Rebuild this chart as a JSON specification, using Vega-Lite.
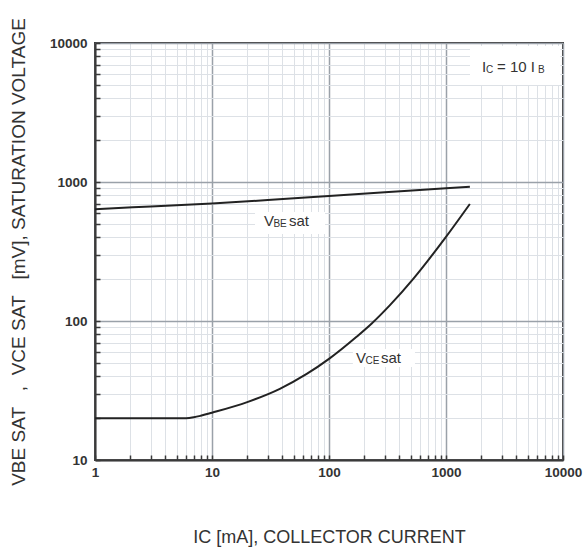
{
  "$schema": "https://vega.github.io/schema/vega-lite/v6.json",
  "autosize": "none",
  "padding": {"left": 95, "top": 43, "right": 20, "bottom": 91},
  "width": 468,
  "height": 417,
  "background": "white",
  "config": {
    "view": {"stroke": "#3a3a3a", "strokeWidth": 2},
    "font": "Liberation Sans"
  },
  "encoding": {
    "x": {
      "field": "x", "type": "quantitative",
      "scale": {"type": "log", "domain": [1, 10000]},
      "axis": {
        "values": [1,2,3,4,5,6,7,8,9,10,20,30,40,50,60,70,80,90,100,200,300,400,500,600,700,800,900,1000,2000,3000,4000,5000,6000,7000,8000,9000,10000],
        "labelExpr": "indexof([1,10,100,1000,10000], datum.value) >= 0 ? '' + datum.value : ''",
        "gridColor": {"condition": {"test": "indexof([1,10,100,1000,10000], datum.value) >= 0", "value": "#9aa1a9"}, "value": "#dde1e6"},
        "gridWidth": {"condition": {"test": "indexof([1,10,100,1000,10000], datum.value) >= 0", "value": 1.5}, "value": 1},
        "tickSize": -5, "tickColor": "#3a3a3a", "tickWidth": 1.5,
        "labelFont": "Liberation Sans", "labelFontWeight": "bold", "labelFontSize": 13.5, "labelColor": "#333333",
        "labelPadding": 10, "labelOverlap": false, "labelFlush": false,
        "title": "IC [mA], COLLECTOR CURRENT",
        "titleFont": "Liberation Sans", "titleFontSize": 18, "titleFontWeight": "normal", "titleColor": "#333333",
        "titlePadding": 50,
        "domainColor": "#3a3a3a", "domainWidth": 2
      }
    },
    "y": {
      "field": "y", "type": "quantitative",
      "scale": {"type": "log", "domain": [10, 10000]},
      "axis": {
        "values": [10,20,30,40,50,60,70,80,90,100,200,300,400,500,600,700,800,900,1000,2000,3000,4000,5000,6000,7000,8000,9000,10000],
        "labelExpr": "indexof([10,100,1000,10000], datum.value) >= 0 ? '' + datum.value : ''",
        "gridColor": {"condition": {"test": "indexof([10,100,1000,10000], datum.value) >= 0", "value": "#9aa1a9"}, "value": "#dde1e6"},
        "gridWidth": {"condition": {"test": "indexof([10,100,1000,10000], datum.value) >= 0", "value": 1.5}, "value": 1},
        "tickSize": -5, "tickColor": "#3a3a3a", "tickWidth": 1.5,
        "labelFont": "Liberation Sans", "labelFontWeight": "bold", "labelFontSize": 13.5, "labelColor": "#333333",
        "labelPadding": 13, "labelOverlap": false, "labelFlush": false,
        "title": "VBE SAT\u00a0\u00a0 ,\u00a0 VCE SAT\u00a0\u00a0 [mV], SATURATION VOLTAGE",
        "titleFont": "Liberation Sans", "titleFontSize": 19, "titleFontWeight": "normal", "titleColor": "#333333",
        "titlePadding": 21,
        "domainColor": "#3a3a3a", "domainWidth": 2
      }
    }
  },
  "layer": [
    {
      "data": {"values": [
        {"x": 1603, "x2": 9500, "y": 4990, "y2": 9500},
        {"x": 23.3, "x2": 92.5, "y": 423, "y2": 608},
        {"x": 160, "x2": 543, "y": 46.7, "y2": 63}
      ]},
      "mark": {"type": "rect", "fill": "white", "stroke": null},
      "encoding": {
        "x2": {"field": "x2"},
        "y2": {"field": "y2"}
      }
    },
    {
      "data": {"values": [
        {"series": "VBE sat", "x": 1, "y": 637},
        {"series": "VBE sat", "x": 3, "y": 667},
        {"series": "VBE sat", "x": 10, "y": 701},
        {"series": "VBE sat", "x": 30, "y": 741},
        {"series": "VBE sat", "x": 100, "y": 793},
        {"series": "VBE sat", "x": 300, "y": 843},
        {"series": "VBE sat", "x": 1000, "y": 900},
        {"series": "VBE sat", "x": 1600, "y": 925},
        {"series": "VCE sat", "x": 1, "y": 20},
        {"series": "VCE sat", "x": 3, "y": 20},
        {"series": "VCE sat", "x": 6, "y": 20},
        {"series": "VCE sat", "x": 7, "y": 20.3},
        {"series": "VCE sat", "x": 8, "y": 20.8},
        {"series": "VCE sat", "x": 10, "y": 21.9},
        {"series": "VCE sat", "x": 20, "y": 26.1},
        {"series": "VCE sat", "x": 38, "y": 32.5},
        {"series": "VCE sat", "x": 64.5, "y": 41.6},
        {"series": "VCE sat", "x": 100, "y": 53.4},
        {"series": "VCE sat", "x": 172, "y": 77},
        {"series": "VCE sat", "x": 232, "y": 96},
        {"series": "VCE sat", "x": 332, "y": 130},
        {"series": "VCE sat", "x": 525, "y": 201},
        {"series": "VCE sat", "x": 1000, "y": 403},
        {"series": "VCE sat", "x": 1600, "y": 695}
      ]},
      "mark": {"type": "line", "color": "#222222", "strokeWidth": 2, "interpolate": "monotone"},
      "encoding": {
        "detail": {"field": "series"}
      }
    },
    {
      "data": {"values": [{"x": 27.8, "y": 520, "t": "V"}, {"x": 170, "y": 54.6, "t": "V"}]},
      "mark": {"type": "text", "align": "left", "baseline": "middle", "fontSize": 15, "color": "#333333"},
      "encoding": {"text": {"field": "t"}}
    },
    {
      "data": {"values": [{"x": 27.8, "y": 520, "t": "BE"}, {"x": 170, "y": 54.6, "t": "CE"}]},
      "mark": {"type": "text", "align": "left", "baseline": "middle", "fontSize": 10, "dx": 9.5, "dy": 3, "color": "#333333"},
      "encoding": {"text": {"field": "t"}}
    },
    {
      "data": {"values": [{"x": 27.8, "y": 520, "t": "sat"}, {"x": 170, "y": 54.6, "t": "sat"}]},
      "mark": {"type": "text", "align": "left", "baseline": "middle", "fontSize": 15, "dx": 25, "color": "#333333"},
      "encoding": {"text": {"field": "t"}}
    },
    {
      "data": {"values": [{"x": 2032, "y": 6710, "t": "I"}]},
      "mark": {"type": "text", "align": "left", "baseline": "middle", "fontSize": 15, "color": "#333333"},
      "encoding": {"text": {"field": "t"}}
    },
    {
      "data": {"values": [{"x": 2032, "y": 6710, "t": "C"}]},
      "mark": {"type": "text", "align": "left", "baseline": "middle", "fontSize": 10, "dx": 4, "dy": 3, "color": "#333333"},
      "encoding": {"text": {"field": "t"}}
    },
    {
      "data": {"values": [{"x": 2032, "y": 6710, "t": "= 10 I"}]},
      "mark": {"type": "text", "align": "left", "baseline": "middle", "fontSize": 15, "dx": 15, "color": "#333333"},
      "encoding": {"text": {"field": "t"}}
    },
    {
      "data": {"values": [{"x": 2032, "y": 6710, "t": "B"}]},
      "mark": {"type": "text", "align": "left", "baseline": "middle", "fontSize": 10, "dx": 56, "dy": 3, "color": "#333333"},
      "encoding": {"text": {"field": "t"}}
    }
  ]
}
